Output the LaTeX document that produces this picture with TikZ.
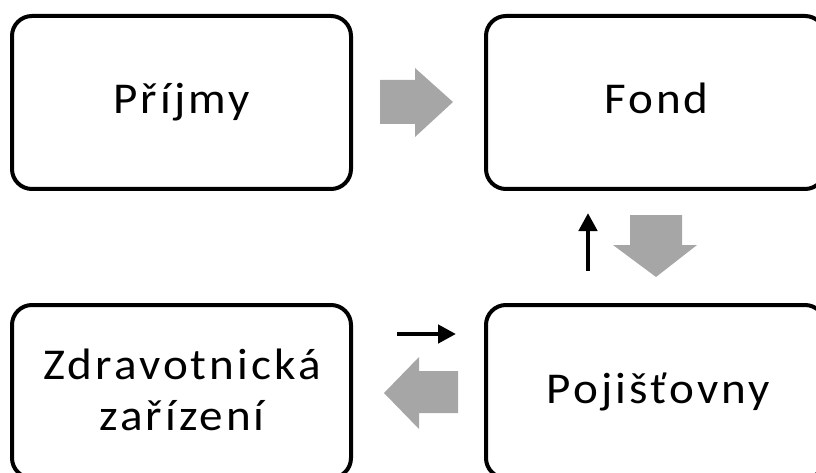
\documentclass[tikz,border=0pt]{standalone}
\usepackage{fontspec}
\setmainfont{Carlito}[LetterSpace=7,FakeStretch=1.07]
\usetikzlibrary{arrows.meta}
\definecolor{blockgray}{RGB}{166,166,166}
\tikzset{
  box/.style={draw=black, line width=4pt, rounded corners=20pt, minimum width=339pt, minimum height=173pt, inner sep=0pt},
  lbl/.style={font=\fontsize{44}{51}\selectfont, inner sep=0pt, anchor=base},
  thinarrow/.style={draw=black, line width=4.5pt, -{Triangle[length=18pt,width=18pt]}},
  blockarrow/.style={fill=blockgray, draw=none}
}
\begin{document}
\begin{tikzpicture}[x=1pt,y=-1pt]
\useasboundingbox (0,0) rectangle (816,473);
\clip (0,0) rectangle (816,473);
% boxes
\node[box] (prijmy) at (181.5,102.5) {};
\node[box] (fond) at (655.5,102.5) {};
\node[box] (zdrav) at (181.5,391.5) {};
\node[box] (poj) at (655.5,391.5) {};
% labels
\node[lbl] (prijmyT) at (181.5,114) {Příjmy};
\node[lbl] (fondT) at (656.5,114) {Fond};
\node[lbl] (zdravT1) at (182,379) {Zdravotnická};
\node[lbl] (zdravT2) at (182,430) {zařízení};
\node[lbl] (pojT) at (658.5,403) {Pojišťovny};
% gray block arrows
\fill[blockarrow] (380,80) -- (415,80) -- (415,68) -- (453,102) -- (415,137) -- (415,124) -- (380,124) -- cycle;
\fill[blockarrow] (630,215) -- (682,215) -- (682,245) -- (697,245) -- (656,277) -- (613,245) -- (630,245) -- cycle;
\fill[blockarrow] (458,371) -- (419,371) -- (419,357) -- (384,393) -- (419,429) -- (419,413) -- (458,413) -- cycle;
% black arrows
\coordinate (upS) at (588,271);
\coordinate (upE) at (588,213);
\coordinate (rtS) at (397,334);
\coordinate (rtE) at (456,334);
\draw[thinarrow] (upS) -- (upE);
\draw[thinarrow] (rtS) -- (rtE);
\end{tikzpicture}
\end{document}
